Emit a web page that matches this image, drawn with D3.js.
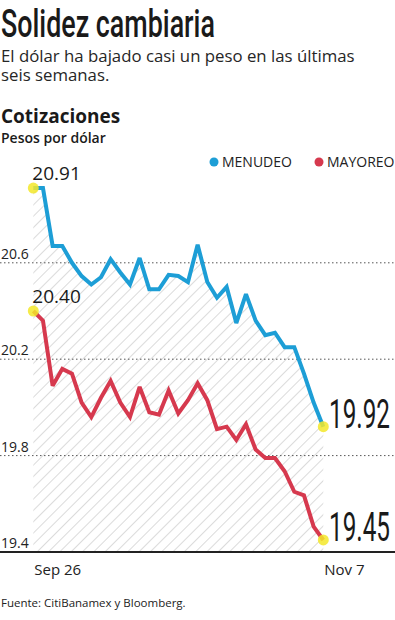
<!DOCTYPE html>
<html><head><meta charset="utf-8">
<script src="https://cdn.jsdelivr.net/npm/d3@7"></script>
<style>
html,body{margin:0;padding:0;background:#fff;}
svg{display:block;}
text{font-family:"Open Sans",sans-serif;fill:#1a1a1a;}
</style></head><body>
<script>
const dates = ["Sep 26","Sep 27","Sep 28","Sep 29","Sep 30","Oct 3","Oct 4","Oct 5","Oct 6","Oct 7","Oct 10","Oct 11","Oct 12","Oct 13","Oct 14","Oct 17","Oct 18","Oct 19","Oct 20","Oct 21","Oct 24","Oct 25","Oct 26","Oct 27","Oct 28","Oct 31","Nov 1","Nov 2","Nov 3","Nov 4","Nov 7"];
const menudeo = [20.91,20.91,20.67,20.67,20.60,20.545,20.51,20.54,20.615,20.56,20.51,20.62,20.49,20.49,20.55,20.545,20.52,20.675,20.52,20.455,20.50,20.35,20.47,20.36,20.30,20.31,20.25,20.25,20.14,20.02,19.92];
const mayoreo = [20.40,20.36,20.09,20.16,20.14,20.02,19.96,20.04,20.11,20.02,19.96,20.085,19.98,19.97,20.07,19.975,20.03,20.10,20.03,19.91,19.92,19.865,19.93,19.825,19.79,19.79,19.735,19.65,19.635,19.505,19.45];
const yTicks = [19.4,19.8,20.2,20.6];
const xTickLabels = ["Sep 26","Nov 7"];
const seriesNames = ["MENUDEO","MAYOREO"];
const colors = ["#1d9ed6","#d6394e"];

const W = 395, H = 620;
const svg = d3.select("body").append("svg").attr("width",W).attr("height",H);

const x = d3.scalePoint().domain(dates).range([33.3,323.3]);
const y = d3.scaleLinear().domain([19.4,21.0]).range([552,166.4]);

const defs = svg.append("defs");
const pat = defs.append("pattern").attr("id","hatch").attr("patternUnits","userSpaceOnUse")
  .attr("width",8).attr("height",8).attr("patternTransform","rotate(45)");
pat.append("line").attr("x1",0).attr("y1",0).attr("x2",0).attr("y2",8)
  .attr("stroke","#bdbdbd").attr("stroke-width",1.1);

// condensed text helper: scale horizontally to a target width
function condensed(str, tx, ty, size, weight, targetW){
  const g = svg.append("g");
  const t = g.append("text").attr("x",0).attr("y",0).text(str)
    .style("font-family","Roboto").style("font-size",size+"px").style("font-weight",weight);
  const w = t.node().getComputedTextLength();
  g.attr("transform",`translate(${tx},${ty}) scale(${targetW/w},1)`);
  return t;
}

// Titles
condensed("Solidez cambiaria", 1, 37, 38, 500, 214);
svg.append("text").attr("x",1).attr("y",62).text("El dólar ha bajado casi un peso en las últimas")
  .style("font-size","16.8px").style("fill","#262626");
svg.append("text").attr("x",1).attr("y",81).text("seis semanas.")
  .style("font-size","16.8px").style("fill","#262626");
svg.append("text").attr("x",1).attr("y",123).text("Cotizaciones")
  .style("font-size","19px").style("font-weight","700");
svg.append("text").attr("x",1).attr("y",143).text("Pesos por dólar")
  .style("font-size","14px").style("font-weight","600");

// Legend
const legX = [214,319];
seriesNames.forEach((n,i)=>{
  svg.append("circle").attr("cx",legX[i]).attr("cy",162).attr("r",4.5).attr("fill",colors[i]);
  svg.append("text").attr("x",legX[i]+8).attr("y",167).text(n).style("font-size","14px").style("fill","#222");
});

// Hatched area under menudeo
const area = d3.area().x((d,i)=>x(dates[i])).y0(y(19.4)).y1(d=>y(d));
svg.append("path").datum(menudeo).attr("d",area).attr("fill","url(#hatch)");

// Gridlines
yTicks.filter(t=>t>19.4).forEach(t=>{
  svg.append("line").attr("x1",0).attr("x2",W).attr("y1",y(t)).attr("y2",y(t))
    .attr("stroke","#555").attr("stroke-width",1).attr("stroke-dasharray","1.5,2.5");
});
yTicks.forEach(t=>{
  svg.append("text").attr("x",1).attr("y",y(t)-4).text(d3.format(".1f")(t))
    .style("font-size","14px").style("fill","#222");
});
svg.append("line").attr("x1",0).attr("x2",W).attr("y1",y(19.4)).attr("y2",y(19.4))
  .attr("stroke","#222").attr("stroke-width",2);

// Lines
const line = d3.line().x((d,i)=>x(dates[i])).y(d=>y(d));
[menudeo,mayoreo].forEach((s,i)=>{
  svg.append("path").datum(s).attr("d",line).attr("fill","none")
    .attr("stroke",colors[i]).attr("stroke-width",4).attr("stroke-linejoin","miter").attr("stroke-miterlimit",3);
});

// Yellow end dots
[menudeo,mayoreo].forEach(s=>{
  [0,s.length-1].forEach(i=>{
    svg.append("circle").attr("cx",x(dates[i])).attr("cy",y(s[i])).attr("r",5.5)
      .attr("fill","#f3e82a").attr("opacity",0.85);
  });
});

// Start labels
[menudeo,mayoreo].forEach(s=>{
  svg.append("text").attr("x",x(dates[0])-1).attr("y",y(s[0])-8).text(d3.format(".2f")(s[0]))
    .style("font-size","19px").style("fill","#1a1a1a");
});
// End labels
[menudeo,mayoreo].forEach(s=>{
  const v = s[s.length-1];
  condensed(d3.format(".2f")(v), 329, y(v)+1, 41, 400, 61);
});

// X labels
xTickLabels.forEach(l=>{
  svg.append("text").attr("x",x(l)+1).attr("y",575).text(l).style("font-size","15px").style("fill","#222");
});

// Source
svg.append("text").attr("x",1).attr("y",607).text("Fuente: CitiBanamex y Bloomberg.")
  .style("font-size","11.5px").style("fill","#222");
</script>
</body></html>
